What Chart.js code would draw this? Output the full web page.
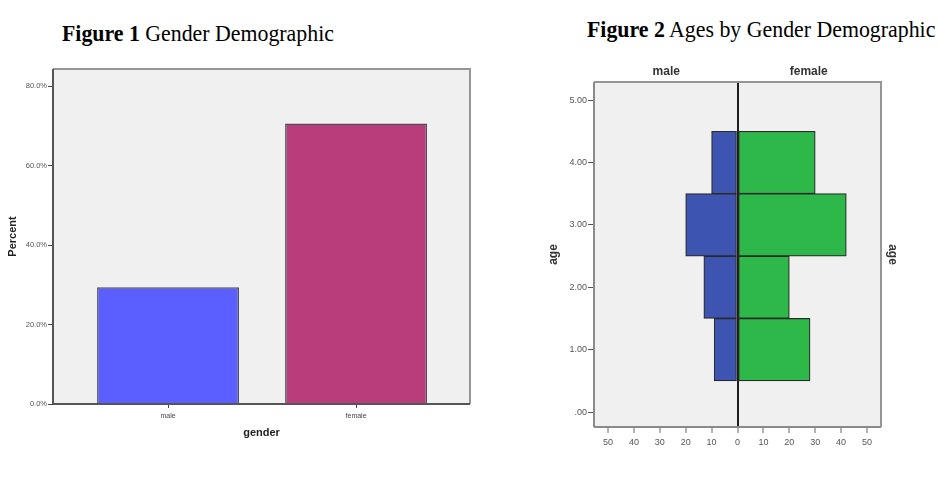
<!DOCTYPE html>
<html lang="en">
<head>
  <meta charset="UTF-8" />
  <title>Gender Demographic</title>
  <script src="https://cdn.jsdelivr.net/npm/chart.js"></script>
  <style>
    body {
      margin: 0;
      width: 938px;
      height: 484px;
      position: relative;
      overflow: hidden;
      background: #fff;
      font-family: "Liberation Serif", "Times New Roman", serif;
    }
    .caption {
      position: absolute;
      font-size: 24px;
      line-height: 1;
      color: #000;
      white-space: nowrap;
      transform: scaleX(0.91);
      transform-origin: left top;
    }
    #cap1 { left: 62px; top: 21px; }
    #cap2 { left: 587px; top: 17px; }
    canvas { position: absolute; }
    #genderChart { left: 0; top: 50px; }
    #ageChart { left: 540px; top: 50px; }
  </style>
</head>
<body>
  <div class="caption" id="cap1"><b>Figure 1</b> Gender Demographic</div>
  <div class="caption" id="cap2"><b>Figure 2</b> Ages by Gender Demographic</div>

  <canvas id="genderChart" width="490" height="410"></canvas>
  <canvas id="ageChart" width="398" height="410"></canvas>

  <script>
    // Figure 1 data
    const genders = ['male', 'female'];
    const genderPercent = [29.4, 70.6];
    const percentTicks = [0, 20, 40, 60, 80];
    const percentTickLabels = ['0.0%', '20.0%', '40.0%', '60.0%', '80.0%'];

    // Figure 2 data (counts per age group)
    const ageGroups = [1, 2, 3, 4];
    const maleCounts = [9, 13, 20, 10];
    const femaleCounts = [28, 20, 42, 30];
    const ageTicks = [0, 1, 2, 3, 4, 5];
    const ageTickLabels = ['.00', '1.00', '2.00', '3.00', '4.00', '5.00'];
    const countTicks = [-50, -40, -30, -20, -10, 0, 10, 20, 30, 40, 50];
    const countTickLabels = ['50', '40', '30', '20', '10', '0', '10', '20', '30', '40', '50'];

    const sans = '"Liberation Sans", Arial, sans-serif';

    // grey plot background + frame round the chart area
    function plotFrame(leftColor, bottomColor) {
      return {
        id: 'plotFrame',
        beforeDraw(chart) {
          const { ctx, chartArea: a } = chart;
          ctx.save();
          ctx.fillStyle = '#f0f0f0';
          ctx.fillRect(a.left, a.top, a.width, a.height);
          ctx.restore();
        },
        afterDraw(chart) {
          const { ctx, chartArea: a } = chart;
          ctx.save();
          ctx.lineWidth = 2;
          ctx.strokeStyle = '#959595';
          ctx.beginPath();
          ctx.moveTo(a.left, a.top);
          ctx.lineTo(a.right, a.top);
          ctx.lineTo(a.right, a.bottom);
          ctx.stroke();
          ctx.strokeStyle = leftColor;
          ctx.beginPath();
          ctx.moveTo(a.left, a.top);
          ctx.lineTo(a.left, a.bottom);
          ctx.stroke();
          ctx.strokeStyle = bottomColor;
          ctx.beginPath();
          ctx.moveTo(a.left, a.bottom);
          ctx.lineTo(a.right, a.bottom);
          ctx.stroke();
          ctx.restore();
        }
      };
    }

    const fixTicks = (values) => (scale) => {
      scale.ticks = values.map(v => ({ value: v }));
    };

    // ---------- Figure 1 ----------
    new Chart(document.getElementById('genderChart'), {
      type: 'bar',
      data: {
        datasets: [{
          data: genders.map((g, i) => ({ x: i, y: genderPercent[i] })),
          backgroundColor: ['#5c5fff', '#b93d7b'],
          borderColor: '#4d4d5a',
          borderWidth: 1.5,
          borderSkipped: 'bottom',
          categoryPercentage: 1,
          barPercentage: 0.755
        }]
      },
      options: {
        responsive: false,
        animation: false,
        layout: { padding: { top: 19, right: 20, left: 0, bottom: 0 } },
        plugins: { legend: { display: false }, tooltip: { enabled: false } },
        scales: {
          x: {
            type: 'linear',
            min: -0.612,
            max: 1.606,
            offset: false,
            afterBuildTicks: fixTicks([0, 1]),
            afterFit: (s) => { s.height = 56; },
            grid: { offset: false, drawOnChartArea: false, tickLength: 4, tickColor: '#444' },
            border: { display: false },
            ticks: {
              callback: (v, i) => genders[i],
              font: { family: sans, size: 7 },
              color: '#444',
              padding: 4,
              maxRotation: 0
            },
            title: {
              display: true,
              text: 'gender',
              font: { family: sans, size: 11, weight: 'bold' },
              color: '#222',
              padding: { bottom: 20 }
            }
          },
          y: {
            min: 0,
            max: 84.3,
            afterBuildTicks: fixTicks(percentTicks),
            afterFit: (s) => { s.width = 53; },
            grid: { drawOnChartArea: false, tickLength: 5, tickColor: '#444' },
            border: { display: false },
            ticks: {
              callback: (v, i) => percentTickLabels[i],
              font: { family: sans, size: 7.5 },
              color: '#555',
              padding: 1
            },
            title: {
              display: true,
              text: 'Percent',
              font: { family: sans, size: 11, weight: 'bold' },
              color: '#222',
              padding: { top: 6 }
            }
          }
        }
      },
      plugins: [plotFrame('#555', '#555')]
    });

    // ---------- Figure 2 ----------
    new Chart(document.getElementById('ageChart'), {
      type: 'bar',
      data: {
        datasets: [
          {
            label: 'male',
            data: ageGroups.map((a, i) => ({ y: a, x: -maleCounts[i] })),
            backgroundColor: '#3d55b0',
            borderColor: '#2a2a2a',
            borderWidth: 1.2,
            borderSkipped: false,
            grouped: false,
            categoryPercentage: 1,
            barPercentage: 1
          },
          {
            label: 'female',
            data: ageGroups.map((a, i) => ({ y: a, x: femaleCounts[i] })),
            backgroundColor: '#2eb84a',
            borderColor: '#2a2a2a',
            borderWidth: 1.2,
            borderSkipped: false,
            grouped: false,
            categoryPercentage: 1,
            barPercentage: 1
          }
        ]
      },
      options: {
        indexAxis: 'y',
        responsive: false,
        animation: false,
        layout: { padding: 0 },
        plugins: { legend: { display: false }, tooltip: { enabled: false } },
        scales: {
          x: {
            type: 'linear',
            min: -55.4,
            max: 55.4,
            z: 1,
            afterBuildTicks: fixTicks(countTicks),
            afterFit: (s) => { s.height = 33; },
            grid: {
              color: (c) => c.tick && c.tick.value === 0 ? '#1e1e1e' : 'rgba(0,0,0,0)',
              lineWidth: 2,
              tickLength: 6,
              tickColor: '#666',
              tickWidth: 1
            },
            border: { display: false },
            ticks: {
              callback: (v, i) => countTickLabels[i],
              font: { family: sans, size: 9 },
              color: '#555',
              padding: 4,
              maxRotation: 0
            }
          },
          x2: {
            type: 'linear',
            position: 'top',
            min: -55.4,
            max: 55.4,
            afterBuildTicks: fixTicks([-27.5, 27.5]),
            afterFit: (s) => { s.height = 32; },
            grid: { display: false, drawTicks: false },
            border: { display: false },
            ticks: {
              callback: (v, i) => ['male', 'female'][i],
              font: { family: sans, size: 12, weight: 'bold' },
              color: '#333',
              padding: 3,
              maxRotation: 0
            }
          },
          y: {
            type: 'linear',
            min: -0.24,
            max: 5.29,
            offset: false,
            afterBuildTicks: fixTicks(ageTicks),
            afterFit: (s) => { s.width = 54; },
            grid: { offset: false, drawOnChartArea: false, tickLength: 6, tickColor: '#555' },
            border: { display: false },
            ticks: {
              callback: (v, i) => ageTickLabels[i],
              font: { family: sans, size: 9 },
              color: '#555',
              padding: 1
            },
            title: {
              display: true,
              text: 'age',
              font: { family: sans, size: 12, weight: 'bold' },
              color: '#333',
              padding: { top: 6 }
            }
          },
          y2: {
            type: 'linear',
            position: 'right',
            min: -0.24,
            max: 5.29,
            afterFit: (s) => { s.width = 57; },
            grid: { display: false, drawTicks: false },
            border: { display: false },
            ticks: { display: false },
            title: {
              display: true,
              text: 'age',
              font: { family: sans, size: 12, weight: 'bold' },
              color: '#333',
              padding: { top: 38 }
            }
          }
        }
      },
      plugins: [plotFrame('#8a8a8a', '#8a8a8a')]
    });
  </script>
</body>
</html>
